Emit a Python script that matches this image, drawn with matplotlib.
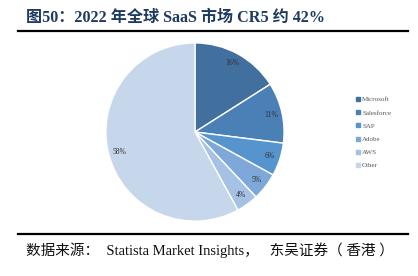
import matplotlib
matplotlib.use("Agg")
import matplotlib.pyplot as plt
from matplotlib.lines import Line2D

plt.rcParams['font.family'] = ['Liberation Serif', 'Noto Sans CJK SC', 'DejaVu Sans']

companies = ['Microsoft', 'Salesforce', 'SAP', 'Adobe', 'AWS', 'Other']
shares = [16, 11, 6, 5, 4, 58]
colors = ['#41709f', '#4a80b6', '#5594cc', '#7ea8da', '#a5c1e4', '#c6d6eb']

fig = plt.figure(figsize=(4.18, 2.76), dpi=100)

# title and rules
fig.text(0.063, 0.935, '图50：2022 年全球 SaaS 市场 CR5 约 42%', fontsize=11.6,
         fontweight='bold', color='#1f3a5f', va='center', ha='left')
fig.add_artist(Line2D([0.042, 0.977], [0.887, 0.887], color='black', lw=1.6))
fig.add_artist(Line2D([0.042, 0.977], [0.152, 0.152], color='black', lw=1.6))
fig.text(0.063, 0.092, '数据来源：  Statista Market Insights，   东吴证券（ 香港 ）',
         fontsize=10.5, color='#111111', va='center', ha='left')

# pie
ax = fig.add_axes([0.4665 - 0.2153, 0.5217 - 0.326, 0.4306, 0.652])
wedges, texts, autotexts = ax.pie(shares, colors=colors, startangle=90, counterclock=False,
                                  autopct='%1.0f%%', pctdistance=0.88,
                                  wedgeprops=dict(edgecolor='white', linewidth=1.0),
                                  textprops=dict(fontsize=5.5, color='#333333'))
ax.set_xlim(-1.01, 1.01)
ax.set_ylim(-1.01, 1.01)
ax.set_aspect('equal')

# legend
handles = [Line2D([], [], marker='s', ls='', color=c, markersize=2.5) for c in colors]
fig.legend(handles, companies, loc='upper left', bbox_to_anchor=(0.845, 0.66),
           frameon=False, fontsize=5, labelcolor='#555555', handlelength=0.6,
           handletextpad=0.3, labelspacing=1.05, borderaxespad=0)

fig.savefig('out.png', dpi=100)
